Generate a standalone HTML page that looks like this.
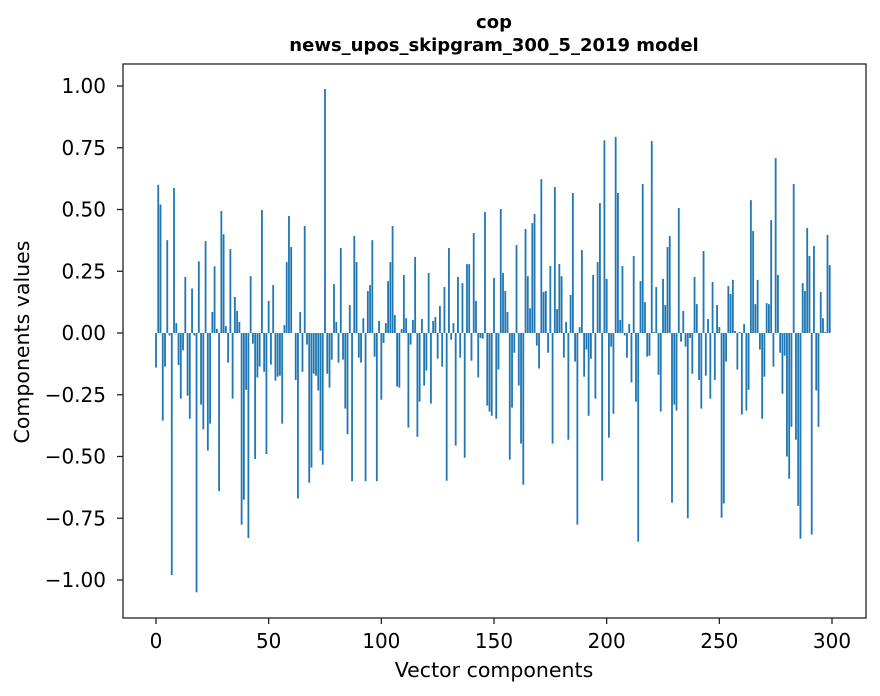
<!DOCTYPE html>
<html><head><meta charset="utf-8"><style>
body{margin:0;background:#fff;}
svg{display:block;font-family:"DejaVu Sans","Liberation Sans",sans-serif;}
</style></head><body>
<svg id="chart" width="880" height="696" viewBox="0 0 880 696" xmlns="http://www.w3.org/2000/svg">
<rect width="880" height="696" fill="#fff"/>
<text x="494" y="28" text-anchor="middle" font-size="18" font-weight="bold">cop</text>
<text x="494" y="51" text-anchor="middle" font-size="18" font-weight="bold">news_upos_skipgram_300_5_2019 model</text>
<g id="bars"></g>
<g id="axes"></g>
<rect x="123" y="64" width="743" height="554" fill="none" stroke="#222" stroke-width="1.3"/>
<text x="494" y="677" text-anchor="middle" font-size="20.5">Vector components</text>
<text transform="translate(29,342) rotate(-90)" text-anchor="middle" font-size="20.5">Components values</text>
</svg>
<script>
const values = [
-0.14,0.60,0.52,-0.355,-0.136,0.376,-0.01,-0.98,0.587,0.04,
-0.13,-0.266,-0.07,0.227,-0.254,-0.347,0.18,-0.01,-1.05,0.29,
-0.29,-0.39,0.372,-0.476,-0.367,0.085,0.27,0.017,-0.64,0.494,
0.40,0.028,-0.12,0.34,-0.266,0.146,0.089,0.045,-0.776,-0.675,
-0.23,-0.83,0.23,-0.043,-0.51,-0.18,-0.136,0.498,-0.157,-0.49,
0.13,-0.128,0.194,-0.193,-0.177,-0.173,-0.367,0.032,0.287,0.474,
0.348,0.0,-0.19,-0.67,0.085,-0.157,0.433,-0.047,-0.606,-0.545,
-0.165,-0.173,-0.233,-0.476,-0.533,0.988,-0.165,-0.221,-0.108,0.198,
0.045,-0.12,0.344,-0.108,-0.306,-0.41,0.113,-0.60,0.393,0.287,
-0.10,-0.12,0.06,-0.60,0.17,0.194,0.376,-0.096,-0.60,0.049,
-0.27,-0.04,0.04,0.21,0.287,0.433,0.073,-0.217,-0.221,0.016,
0.235,0.06,-0.383,-0.047,0.053,0.308,-0.42,-0.278,0.057,-0.213,
-0.152,0.243,-0.286,0.049,0.065,-0.104,0.109,-0.136,0.186,-0.598,
0.344,-0.027,0.04,-0.456,0.227,-0.10,0.202,-0.505,0.279,0.279,
-0.112,0.405,0.13,-0.18,-0.02,-0.023,0.49,-0.294,-0.318,-0.335,
0.223,-0.347,-0.148,0.502,0.243,0.17,0.085,-0.513,-0.302,-0.08,
0.356,-0.213,-0.448,-0.614,0.421,0.23,0.10,0.445,0.482,-0.051,
-0.144,0.623,0.166,0.17,-0.08,0.271,-0.448,0.591,0.097,0.279,
0.23,-0.10,0.045,-0.432,0.154,0.567,-0.116,-0.776,0.024,0.336,
-0.177,-0.067,-0.335,-0.104,0.235,-0.266,0.287,0.526,-0.598,0.78,
0.219,-0.424,-0.055,-0.327,0.794,0.567,0.053,0.271,-0.01,-0.10,
0.036,-0.20,0.312,-0.278,-0.845,0.21,0.603,0.125,-0.096,-0.092,
0.777,0.004,0.186,-0.169,-0.318,0.219,0.113,0.348,0.393,-0.687,
-0.29,-0.314,0.506,-0.035,0.089,-0.055,-0.75,-0.02,-0.165,0.227,
0.117,-0.19,-0.306,0.332,-0.173,0.057,-0.266,0.206,-0.19,0.113,
0.024,-0.748,-0.69,-0.116,0.19,0.158,0.215,0.008,-0.148,0.004,
-0.33,0.036,-0.314,-0.23,0.538,0.413,0.117,0.215,-0.067,-0.347,
-0.177,0.121,0.117,0.457,-0.136,0.708,0.235,-0.08,-0.246,-0.092,
-0.50,-0.59,-0.38,0.603,-0.432,-0.70,-0.833,0.202,0.17,0.425,
0.312,-0.816,0.352,-0.233,-0.38,0.166,0.06,0.004,0.397,0.275
];
const xTicks = [0,50,100,150,200,250,300];
const yTicks = [-1.00,-0.75,-0.50,-0.25,0.00,0.25,0.50,0.75,1.00];

const NS="http://www.w3.org/2000/svg";
const xs = v => 156 + v*(832-156)/300;
const ys = v => 333 - v*247;
const barsG=document.getElementById('bars');
const axesG=document.getElementById('axes');
values.forEach((v,i)=>{
  const r=document.createElementNS(NS,'rect');
  const w=0.8*(832-156)/300;
  r.setAttribute('x',xs(i)-w/2);
  r.setAttribute('width',w);
  r.setAttribute('y',Math.min(ys(v),ys(0)));
  r.setAttribute('height',Math.abs(ys(v)-ys(0)));
  r.setAttribute('fill','#1f77b4');
  
  
  barsG.appendChild(r);
});
xTicks.forEach(t=>{
  const l=document.createElementNS(NS,'line');
  l.setAttribute('x1',xs(t));l.setAttribute('x2',xs(t));
  l.setAttribute('y1',618);l.setAttribute('y2',624);
  l.setAttribute('stroke','#222');l.setAttribute('stroke-width','1.3');
  
  
  axesG.appendChild(l);
  const tx=document.createElementNS(NS,'text');
  tx.setAttribute('x',xs(t));tx.setAttribute('y',648);
  tx.setAttribute('text-anchor','middle');tx.setAttribute('font-size','20');
  tx.textContent=t;
  
  
  axesG.appendChild(tx);
});
yTicks.forEach(t=>{
  const l=document.createElementNS(NS,'line');
  l.setAttribute('x1',117);l.setAttribute('x2',123);
  l.setAttribute('y1',ys(t));l.setAttribute('y2',ys(t));
  l.setAttribute('stroke','#222');l.setAttribute('stroke-width','1.3');
  
  
  axesG.appendChild(l);
  const tx=document.createElementNS(NS,'text');
  tx.setAttribute('x',106);tx.setAttribute('y',ys(t)+7);
  tx.setAttribute('text-anchor','end');tx.setAttribute('font-size','20');
  tx.textContent=(t<0?'\u2212':'')+Math.abs(t).toFixed(2);
  
  
  axesG.appendChild(tx);
});
</script>
</body></html>
